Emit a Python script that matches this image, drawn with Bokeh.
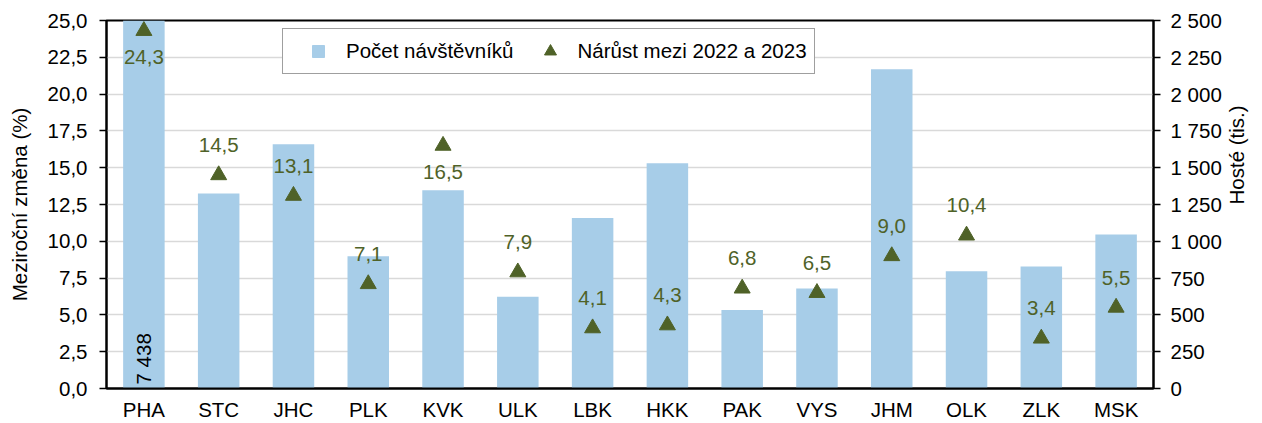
import math
from bokeh.plotting import figure
from bokeh.models import (ColumnDataSource, FactorRange, Range1d, LinearAxis, FixedTicker,
                          CustomJSTickFormatter, Legend, LegendItem)
from bokeh.core.properties import value
from bokeh.embed import file_html
from bokeh.resources import INLINE

# ---- data ----
regions = ["PHA", "STC", "JHC", "PLK", "KVK", "ULK", "LBK", "HKK", "PAK", "VYS", "JHM", "OLK", "ZLK", "MSK"]
guests = [7438, 1325, 1660, 898, 1347, 623, 1158, 1530, 533, 680, 2168, 796, 828, 1046]   # Hosté (tis.)
growth = [24.3, 14.5, 13.1, 7.1, 16.5, 7.9, 4.1, 4.3, 6.8, 6.5, 9.0, 10.4, 3.4, 5.5]      # Meziroční změna (%)
label_side = ["below", "above", "above", "above", "below", "above", "above",
              "above", "above", "above", "above", "above", "above", "above"]
left_ticks = [0, 2.5, 5, 7.5, 10, 12.5, 15, 17.5, 20, 22.5, 25]
right_ticks = [0, 250, 500, 750, 1000, 1250, 1500, 1750, 2000, 2250, 2500]

FONT = "Liberation Sans"
FS = "20.5px"
BAR = "#A7CDE8"
GREEN = "#4F6228"

p = figure(width=1262, height=423, x_range=FactorRange(*regions, range_padding=0),
           y_range=Range1d(0, 25), output_backend="svg", toolbar_location=None,
           min_border_left=106, min_border_right=105, min_border_top=20, min_border_bottom=34)
p.extra_y_ranges = {"right": Range1d(0, 2500)}
p.background_fill_color = "white"
p.border_fill_color = "white"
p.outline_line_color = "black"
p.outline_line_width = 2

# bars (right axis)
src = ColumnDataSource(dict(
    region=regions, guests=guests, growth=growth,
    glabel=[f"{v:.1f}".replace(".", ",") for v in growth],
    goff=[26 if s == "below" else -30 for s in label_side],
))
bars = p.vbar(x="region", top="guests", width=0.555, source=src, y_range_name="right",
              fill_color=BAR, line_color=None)

# value of the clipped bar
big = [(r, g) for r, g in zip(regions, guests) if g > 2500]
bsrc = ColumnDataSource(dict(region=[b[0] for b in big], y=[0] * len(big),
                             txt=[f"{b[1]:,}".replace(",", " ") for b in big]))
p.text(x="region", y="y", text="txt", source=bsrc, y_range_name="right", angle=math.pi / 2,
       text_align="left", text_baseline="middle", y_offset=-4,
       text_font=value(FONT), text_font_size=FS, text_color="black")

# triangles (left axis)
tri = p.scatter(x="region", y="growth", source=src, marker="triangle", size=16,
                fill_color=GREEN, line_color=GREEN)
p.text(x="region", y="growth", text="glabel", source=src, y_offset="goff",
       text_align="center", text_baseline="middle",
       text_font=value(FONT), text_font_size=FS, text_color=GREEN)

# legend proxies (not visible in the plot: y is NaN)
sq_proxy = p.scatter(x=[regions[0]], y=[float("nan")], marker="square",
                     fill_color=BAR, line_color=BAR)
tri_proxy = p.scatter(x=[regions[0]], y=[float("nan")], marker="triangle",
                      fill_color=GREEN, line_color=GREEN)
legend = Legend(items=[LegendItem(label="Počet návštěvníků", renderers=[sq_proxy]),
                       LegendItem(label="Nárůst mezi 2022 a 2023", renderers=[tri_proxy])],
                orientation="horizontal", location=(176, 314),
                glyph_width=56, glyph_height=30, label_standoff=0, spacing=8, padding=7,
                label_text_font=FONT, label_text_font_size=FS, label_text_color="black",
                border_line_color="#404040", border_line_width=1.5,
                background_fill_color="white", background_fill_alpha=1.0)
p.add_layout(legend)

# axes
p.xaxis.major_tick_line_color = None
p.xaxis.minor_tick_line_color = None
p.xaxis.axis_line_color = "black"
p.xaxis.axis_line_width = 2
p.xaxis.major_label_standoff = 3
p.xaxis.major_label_text_font = FONT
p.xaxis.major_label_text_font_size = FS
p.xaxis.major_label_text_color = "black"

ya = p.yaxis[0]
ya.ticker = FixedTicker(ticks=left_ticks)
ya.formatter = CustomJSTickFormatter(code="return tick.toFixed(1).replace('.', ',');")
ya.axis_label = "Meziroční změna (%)"
ya.minor_tick_line_color = None

ra = LinearAxis(y_range_name="right", axis_label="Hosté (tis.)")
ra.ticker = FixedTicker(ticks=right_ticks)
ra.formatter = CustomJSTickFormatter(code=r"return tick.toFixed(0).replace(/\B(?=(\d{3})+(?!\d))/g, ' ');")
ra.minor_tick_line_color = None
ra.axis_label_orientation = math.pi / 2
p.add_layout(ra, "right")

for ax, standoff, lstand in ((ya, 12, 14), (ra, 10, 12)):
    ax.axis_line_color = "black"
    ax.axis_line_width = 2
    ax.major_tick_line_color = "black"
    ax.major_tick_line_width = 1.5
    ax.major_tick_out = 7
    ax.major_tick_in = 0
    ax.major_label_standoff = standoff
    ax.major_label_text_font = FONT
    ax.major_label_text_font_size = FS
    ax.major_label_text_color = "black"
    ax.axis_label_text_font = FONT
    ax.axis_label_text_font_size = FS
    ax.axis_label_text_font_style = "normal"
    ax.axis_label_text_color = "black"
    ax.axis_label_standoff = lstand
ra.axis_label_text_baseline = "top"

p.xgrid.grid_line_color = None
p.ygrid.grid_line_color = "#D9D9D9"
p.ygrid.grid_line_width = 1.5

open("out.html", "w").write(file_html(p, INLINE))
